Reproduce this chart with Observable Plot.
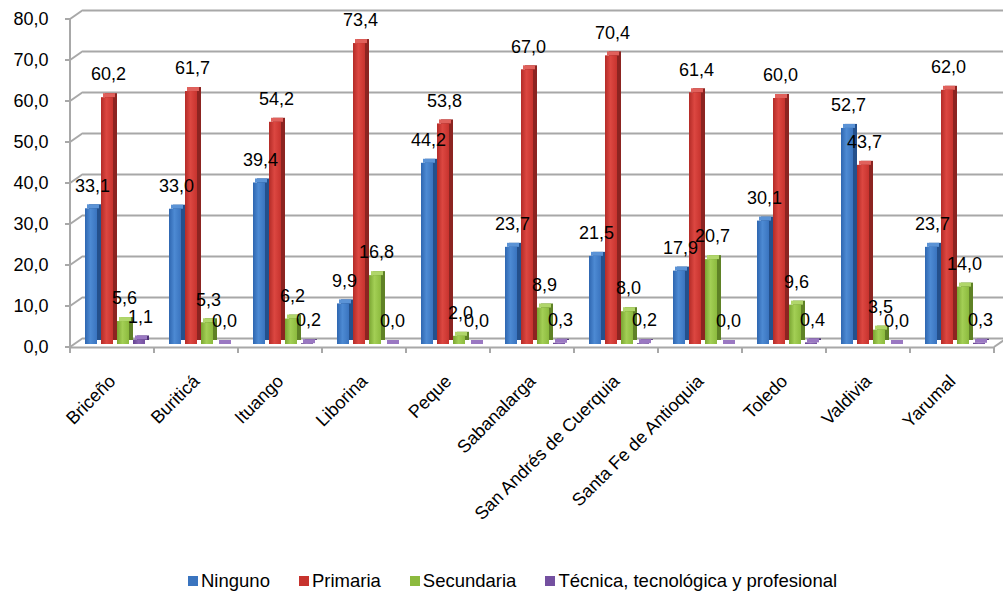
<!DOCTYPE html>
<html>
<head>
<meta charset="utf-8">
<script src="https://cdn.jsdelivr.net/npm/d3@7"></script>
<script src="https://cdn.jsdelivr.net/npm/@observablehq/plot@0.6"></script>
<style>
  html, body { margin: 0; padding: 0; background: #fff; }
  body { width: 1003px; height: 593px; overflow: hidden; position: relative; font-family: "Liberation Sans", Arial, sans-serif; }
  #legend { position: absolute; left: 188px; top: 570px; display: flex; gap: 29px; font-size: 18.5px; line-height: 22px; color: #000; white-space: nowrap; }
  #legend span.item { display: flex; align-items: center; }
  #legend span.sw { display: inline-block; width: 10px; height: 10px; margin-right: 3px; }
</style>
</head>
<body>
<div id="chart"></div>
<div id="legend"></div>
<script>
const categories = ["Briceño","Buriticá","Ituango","Liborina","Peque","Sabanalarga","San Andrés de Cuerquia","Santa Fe de Antioquia","Toledo","Valdivia","Yarumal"];
const seriesNames = ["Ninguno","Primaria","Secundaria","Técnica, tecnológica y profesional"];
const ninguno    = [33.1, 33.0, 39.4,  9.9, 44.2, 23.7, 21.5, 17.9, 30.1, 52.7, 23.7];
const primaria   = [60.2, 61.7, 54.2, 73.4, 53.8, 67.0, 70.4, 61.4, 60.0, 43.7, 62.0];
const secundaria = [ 5.6,  5.3,  6.2, 16.8,  2.0,  8.9,  8.0, 20.7,  9.6,  3.5, 14.0];
const tecnica    = [ 1.1,  0.0,  0.2,  0.0,  0.0,  0.3,  0.2,  0.0,  0.4,  0.0,  0.3];
const yTicks = [0, 10, 20, 30, 40, 50, 60, 70, 80];

const seriesValues = [ninguno, primaria, secundaria, tecnica];
const frontFill = ["url(#gBlue)", "url(#gRed)", "url(#gGreen)", "url(#gPurple)"];
const sideFill  = ["#24508c", "#8c2421", "#5f8226", "#4f3475"];
const topFill   = ["#5b93d6", "#e0615c", "#b0d66a", "#9a78c2"];
const grads = [
  ["gBlue",   "#2e66b0", "#4d8ad3", "#3a74bf"],
  ["gRed",    "#b32b27", "#dc4741", "#c7332e"],
  ["gGreen",  "#7aa532", "#a3cf55", "#8cba3e"],
  ["gPurple", "#63428f", "#8a66b4", "#7450a0"]
];
const fmt = v => v.toFixed(1).replace(".", ",");
const FONT = "Liberation Sans, Arial, sans-serif";

const BAND = 84, STEP = 16, BW = 12, START = 15, LIFT = -3;
const X_LABEL_LEVEL = -7.5; // category labels sit this far below the zero line, in axis units
const marks = [
  Plot.ruleY(yTicks, {dx: 13, dy: -9, stroke: "#a8a8a8", strokeWidth: 2}),
  Plot.ruleY([0], {stroke: "#a8a8a8", strokeWidth: 2})
];
seriesValues.forEach((vals, i) => {
  const data = categories.map((c, k) => ({cat: c, value: vals[k]}));
  const off = START + STEP * i;
  const ins = {insetLeft: off, insetRight: BAND - off - BW};
  marks.push(Plot.barY(data, {x: "cat", y: "value", ...ins, dx: 4, dy: LIFT - 4, fill: sideFill[i]}));
  marks.push(Plot.barY(data, {x: "cat", y1: "value", y2: "value", ...ins, insetTop: -4, dx: 2, dy: LIFT, fill: topFill[i]}));
  marks.push(Plot.barY(data, {x: "cat", y: "value", ...ins, dy: LIFT, fill: frontFill[i]}));
});
seriesValues.forEach((vals, i) => {
  const data = categories.map((c, k) => ({cat: c, value: vals[k]}));
  const off = START + STEP * i;
  marks.push(Plot.text(data, {x: "cat", y: "value", text: d => fmt(d.value), dx: off + BW / 2 + 1 - BAND / 2, dy: LIFT - 23, fontSize: 18, fill: "#000"}));
});
// axis tick labels
marks.push(Plot.text(yTicks, {y: d => d, text: fmt, frameAnchor: "left", textAnchor: "end", dx: -22, fontSize: 18, fill: "#000"}));
marks.push(Plot.text(categories, {x: d => d, y: () => X_LABEL_LEVEL, text: d => d, rotate: -45, textAnchor: "end", fontSize: 18, fill: "#000"}));

const plot = Plot.plot({
  width: 1003, height: 555,
  marginLeft: 70, marginRight: 9, marginTop: 19, marginBottom: 208,
  style: {fontFamily: FONT, fontSize: "18px", background: "#fff", color: "#000", overflow: "visible"},
  x: {domain: categories, padding: 0, axis: null},
  y: {domain: [0, 80], axis: null},
  marks
});
document.getElementById("chart").appendChild(plot);

const svg = d3.select(plot);
const defs = svg.insert("defs", ":first-child");
grads.forEach(([id, a, b, c]) => {
  const gr = defs.append("linearGradient").attr("id", id).attr("x1", "0").attr("x2", "1").attr("y1", "0").attr("y2", "0");
  gr.append("stop").attr("offset", "0%").attr("stop-color", a);
  gr.append("stop").attr("offset", "45%").attr("stop-color", b);
  gr.append("stop").attr("offset", "100%").attr("stop-color", c);
});

// structural lines positioned from the plot's scales
const xs = plot.scale("x"), ys = plot.scale("y");
const g = svg.append("g").attr("stroke", "#a8a8a8").attr("stroke-width", 2).attr("fill", "none");
const x0 = xs.apply(categories[0]);
const xEnd = xs.apply(categories[categories.length - 1]) + xs.bandwidth;
yTicks.forEach(v => {
  const y = ys.apply(v);
  g.append("line").attr("x1", x0).attr("y1", y).attr("x2", x0 + 13).attr("y2", y - 9);
  g.append("line").attr("x1", x0 - 5).attr("y1", y).attr("x2", x0).attr("y2", y);
});
g.append("line").attr("x1", x0).attr("y1", ys.apply(0)).attr("x2", x0).attr("y2", ys.apply(80));
g.append("line").attr("x1", xEnd).attr("y1", ys.apply(0)).attr("x2", xEnd + 13).attr("y2", ys.apply(0) - 9);
categories.forEach(c => {
  const x = xs.apply(c);
  g.append("line").attr("x1", x).attr("y1", ys.apply(0)).attr("x2", x).attr("y2", ys.apply(0) + 6);
});
g.append("line").attr("x1", xEnd).attr("y1", ys.apply(0)).attr("x2", xEnd).attr("y2", ys.apply(0) + 6);

const legendColors = ["#3a74bf", "#c7332e", "#8cba3e", "#7450a0"];
const lg = d3.select("#legend");
seriesNames.forEach((n, i) => {
  const it = lg.append("span").attr("class", "item");
  it.append("span").attr("class", "sw").style("background", legendColors[i]);
  it.append("span").text(n);
});
</script>
</body>
</html>
